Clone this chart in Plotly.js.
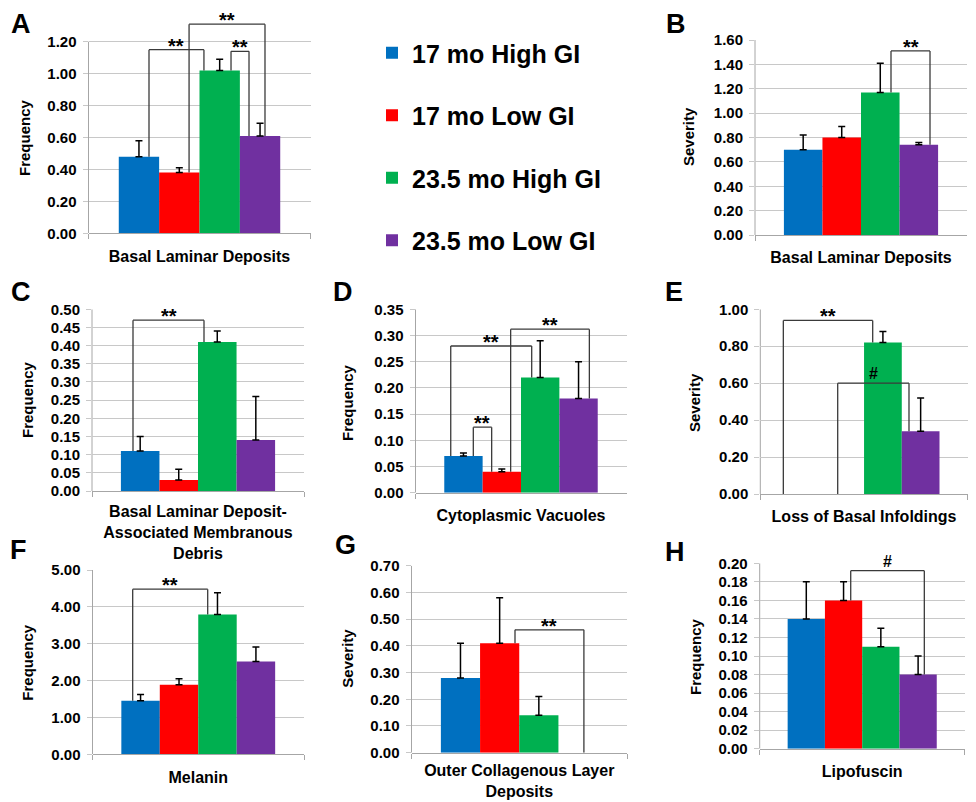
<!DOCTYPE html>
<html><head><meta charset="utf-8">
<script src="https://cdn.plot.ly/plotly-3.0.1.min.js"></script>
<style>html,body{margin:0;padding:0;background:#fff}#chart{width:976px;height:802px}</style>
</head><body><div id="chart"></div>
<script>
// ---------- DATA ----------
const seriesNames = ['17 mo High GI', '17 mo Low GI', '23.5 mo High GI', '23.5 mo Low GI'];

const categoryA = 'Basal Laminar Deposits';
const valuesA = [0.48, 0.38, 1.02, 0.61];
const errorsA = [0.10, 0.03, 0.07, 0.08];
const ticksA = [0, 0.2, 0.4, 0.6, 0.8, 1.0, 1.2];

const categoryB = 'Basal Laminar Deposits';
const valuesB = [0.70, 0.80, 1.17, 0.74];
const errorsB = [0.12, 0.09, 0.24, 0.02];
const ticksB = [0, 0.2, 0.4, 0.6, 0.8, 1.0, 1.2, 1.4, 1.6];

const categoryC = 'Basal Laminar Deposit-<br>Associated Membranous<br>Debris';
const valuesC = [0.11, 0.03, 0.41, 0.14];
const errorsC = [0.04, 0.03, 0.03, 0.12];
const ticksC = [0, 0.05, 0.10, 0.15, 0.20, 0.25, 0.30, 0.35, 0.40, 0.45, 0.50];

const categoryD = 'Cytoplasmic Vacuoles';
const valuesD = [0.07, 0.04, 0.22, 0.18];
const errorsD = [0.006, 0.005, 0.07, 0.07];
const ticksD = [0, 0.05, 0.10, 0.15, 0.20, 0.25, 0.30, 0.35];

const categoryE = 'Loss of Basal Infoldings';
const valuesE = [0, 0, 0.82, 0.34];
const errorsE = [null, null, 0.06, 0.18];
const ticksE = [0, 0.2, 0.4, 0.6, 0.8, 1.0];

const categoryF = 'Melanin';
const valuesF = [1.45, 1.89, 3.79, 2.52];
const errorsF = [0.17, 0.16, 0.59, 0.39];
const ticksF = [0, 1, 2, 3, 4, 5];

const categoryG = 'Outer Collagenous Layer<br>Deposits';
const valuesG = [0.28, 0.41, 0.14, 0];
const errorsG = [0.13, 0.17, 0.07, null];
const ticksG = [0, 0.1, 0.2, 0.3, 0.4, 0.5, 0.6, 0.7];

const categoryH = 'Lipofuscin';
const valuesH = [0.14, 0.16, 0.11, 0.08];
const errorsH = [0.04, 0.02, 0.02, 0.02];
const ticksH = [0, 0.02, 0.04, 0.06, 0.08, 0.10, 0.12, 0.14, 0.16, 0.18, 0.20];

// significance brackets: series indices compared, bracket ends (x within category), bracket height, label
const bracketsA = [
  {from: 0, to: 2, xl: -0.2275, xr: 0.020, top: 1.15, label: '**'},
  {from: 1, to: 3, xl: -0.047, xr: 0.295, top: 1.31, label: '**'},
  {from: 2, to: 3, xl: 0.142, xr: 0.223, top: 1.14, label: '**'}
];
const bracketsB = [{from: 2, to: 3, xl: 0.1415, xr: 0.3255, top: 1.51, label: '**'}];
const bracketsC = [{from: 0, to: 2, xl: -0.3066, xr: 0.0283, top: 0.47, label: '**'}];
const bracketsD = [
  {from: 0, to: 2, xl: -0.333, xr: 0.0507, top: 0.28, label: '**'},
  {from: 0, to: 1, xl: -0.226, xr: -0.139, top: 0.125, label: '**'},
  {from: 1, to: 3, xl: -0.049, xr: 0.324, top: 0.312, label: '**'}
];
const bracketsE = [
  {from: 0, to: 2, xl: -0.389, xr: 0.0417, top: 0.94, label: '**'},
  {from: 1, to: 3, xl: -0.127, xr: 0.2166, top: 0.60, label: '#'}
];
const bracketsF = [{from: 0, to: 2, xl: -0.31, xr: 0.0447, top: 4.48, label: '**'}];
const bracketsG = [{from: 1, to: 3, xl: -0.0197, xr: 0.30, top: 0.46, label: '**'}];
const bracketsH = [{from: 1, to: 3, xl: -0.056, xr: 0.303, top: 0.192, label: '#'}];

// ---------- STYLE / LAYOUT ----------
const seriesColors = ['#0070C0', '#FF0000', '#00B050', '#7030A0'];
const W = 976, H = 802;
const FONT = 'Liberation Sans, Arial, Helvetica, sans-serif';

const panels = [
  {letter: 'A', cat: categoryA, vals: valuesA, errs: errorsA, ticks: ticksA, ytitle: 'Frequency', br: bracketsA,
   g: {left: 88.5, right: 310.5, y0: 233.3, yMaxPx: 41.7, lx: 21, ly: 24, tx: 24, ty: 138, so: 8}},
  {letter: 'B', cat: categoryB, vals: valuesB, errs: errorsB, ticks: ticksB, ytitle: 'Severity', br: bracketsB,
   g: {left: 755, right: 967, y0: 235, yMaxPx: 40, lx: 676, ly: 24, tx: 689, ty: 137, so: 8}},
  {letter: 'C', cat: categoryC, vals: valuesC, errs: errorsC, ticks: ticksC, ytitle: 'Frequency', br: bracketsC,
   g: {left: 92, right: 304, y0: 491, yMaxPx: 309.3, lx: 20.5, ly: 292.5, tx: 27, ty: 400, so: 6}},
  {letter: 'D', cat: categoryD, vals: valuesD, errs: errorsD, ticks: ticksD, ytitle: 'Frequency', br: bracketsD,
   g: {left: 415.5, right: 626.5, y0: 492.7, yMaxPx: 309.3, lx: 343, ly: 292, tx: 348, ty: 403, so: 8}},
  {letter: 'E', cat: categoryE, vals: valuesE, errs: errorsE, ticks: ticksE, ytitle: 'Severity', br: bracketsE,
   g: {left: 760.3, right: 967.8, y0: 494, yMaxPx: 309.3, lx: 674, ly: 292, tx: 695, ty: 403, so: 8}},
  {letter: 'F', cat: categoryF, vals: valuesF, errs: errorsF, ticks: ticksF, ytitle: 'Frequency', br: bracketsF,
   g: {left: 92.5, right: 304, y0: 754.3, yMaxPx: 570, lx: 18.3, ly: 550, tx: 26.7, ty: 662, so: 8}},
  {letter: 'G', cat: categoryG, vals: valuesG, errs: errorsG, ticks: ticksG, ytitle: 'Severity', br: bracketsG,
   g: {left: 411.5, right: 627, y0: 752.7, yMaxPx: 565.7, lx: 345, ly: 545, tx: 346.7, ty: 658, so: 3}},
  {letter: 'H', cat: categoryH, vals: valuesH, errs: errorsH, ticks: ticksH, ytitle: 'Frequency', br: bracketsH,
   g: {left: 759.7, right: 964.7, y0: 748.7, yMaxPx: 563.3, lx: 675, ly: 552, tx: 695, ty: 657, so: 8}}
];

const traces = [];
const layout = {
  width: W, height: H,
  margin: {l: 0, r: 0, t: 0, b: 0},
  paper_bgcolor: '#ffffff', plot_bgcolor: 'rgba(0,0,0,0)',
  barmode: 'group', bargap: 0.2727, bargroupgap: 0,
  font: {family: FONT, color: '#000000'},
  showlegend: true,
  legend: {
    x: 372 / W, xanchor: 'left', y: 1 - 30 / H, yanchor: 'top',
    font: {size: 25, family: FONT, weight: 'bold', color: '#000'},
    traceorder: 'grouped', tracegroupgap: 27, bgcolor: 'rgba(0,0,0,0)', borderwidth: 0,
    itemclick: false, itemdoubleclick: false
  },
  shapes: [], annotations: []
};

const GRID = '#c8c8c8', AXIS = '#a6a6a6', BRACKET = '#3a3a3a';

panels.forEach((p, k) => {
  const n = k + 1;
  const xa = n === 1 ? 'x' : 'x' + n;
  const ya = n === 1 ? 'y' : 'y' + n;
  const maxTick = p.ticks[p.ticks.length - 1];
  const pxPerUnit = (p.g.y0 - p.g.yMaxPx) / maxTick;
  const topNeed = Math.max(maxTick, ...p.br.map(b => b.top));
  const rmax = topNeed > maxTick ? topNeed * 1.02 : maxTick;
  const topPx = p.g.y0 - rmax * pxPerUnit;

  layout['xaxis' + (n === 1 ? '' : n)] = {
    domain: [p.g.left / W, p.g.right / W], anchor: ya, type: 'category', range: [-0.5, 0.5],
    showline: true, linecolor: AXIS, linewidth: 1, ticks: 'outside', tickson: 'boundaries',
    ticklen: 5, tickcolor: AXIS, showgrid: false, zeroline: false, fixedrange: true,
    tickfont: {size: 16, family: FONT, weight: 'bold', color: '#000'}, ticklabelstandoff: p.g.so
  };
  layout['yaxis' + (n === 1 ? '' : n)] = {
    domain: [1 - p.g.y0 / H, 1 - topPx / H], anchor: xa, range: [0, rmax],
    tickvals: p.ticks, tickformat: '.2f', showgrid: true, gridcolor: GRID, gridwidth: 1,
    zeroline: false, showline: false, ticks: 'outside', ticklen: 5, tickcolor: GRID,
    tickfont: {size: 15, family: FONT, weight: 'bold', color: '#000'}, ticklabelstandoff: 3,
    fixedrange: true
  };

  // y axis line (only up to the top tick)
  layout.shapes.push({type: 'line', xref: xa + ' domain', yref: ya, x0: 0, x1: 0, y0: 0, y1: maxTick,
    line: {color: AXIS, width: 1}, layer: 'below'});

  seriesNames.forEach((name, i) => {
    const e = p.errs[i];
    traces.push({
      type: 'bar', name: name, x: [p.cat], y: [p.vals[i]], xaxis: xa, yaxis: ya,
      marker: {color: seriesColors[i], line: {width: 0}},
      legendgroup: 'g' + i, showlegend: k === 0,
      error_y: {visible: e != null, type: 'data', symmetric: false, array: [e == null ? 0 : e], arrayminus: [0],
        color: '#000', thickness: 1.5, width: 3.5},
      hoverinfo: 'skip'
    });
  });

  // significance brackets
  p.br.forEach(b => {
    const ln = {color: BRACKET, width: 1.3};
    layout.shapes.push({type: 'line', xref: xa, yref: ya, x0: b.xl, x1: b.xl, y0: p.vals[b.from], y1: b.top, line: ln});
    layout.shapes.push({type: 'line', xref: xa, yref: ya, x0: b.xl, x1: b.xr, y0: b.top, y1: b.top, line: ln});
    layout.shapes.push({type: 'line', xref: xa, yref: ya, x0: b.xr, x1: b.xr, y0: p.vals[b.to], y1: b.top, line: ln});
    const isStar = b.label === '**';
    layout.annotations.push({
      xref: xa, yref: ya, x: (b.xl + b.xr) / 2, y: b.top, text: b.label, showarrow: false,
      xanchor: 'center', yanchor: 'bottom', yshift: isStar ? -9 : -1,
      font: {size: isStar ? 20 : 16, family: FONT, weight: 'bold', color: '#000'}
    });
  });

  // panel letter
  layout.annotations.push({xref: 'paper', yref: 'paper', x: p.g.lx / W, y: 1 - p.g.ly / H,
    text: p.letter, showarrow: false, xanchor: 'center', yanchor: 'middle',
    font: {size: 27, family: FONT, weight: 'bold', color: '#000'}});
  // y axis title
  layout.annotations.push({xref: 'paper', yref: 'paper', x: p.g.tx / W, y: 1 - p.g.ty / H,
    text: p.ytitle, textangle: -90, showarrow: false, xanchor: 'center', yanchor: 'middle',
    font: {size: 15, family: FONT, weight: 'bold', color: '#000'}});
});

Plotly.newPlot('chart', traces, layout, {displayModeBar: false, staticPlot: true});
</script>
</body></html>
